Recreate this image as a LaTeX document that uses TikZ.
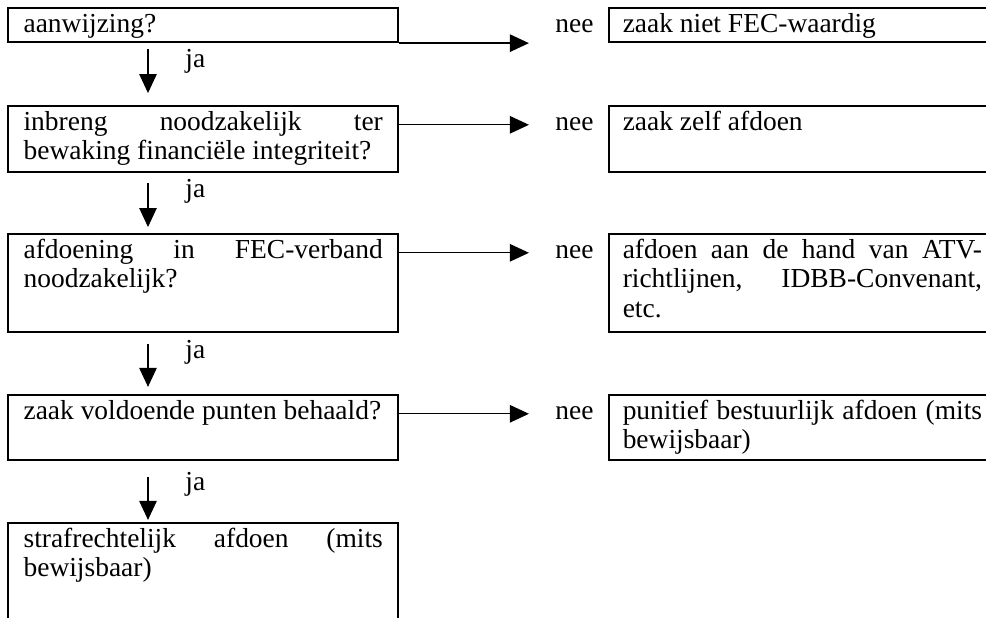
\documentclass[tikz,border=0pt]{standalone}
\usepackage{fontspec}
\setmainfont{Liberation Serif}
\usetikzlibrary{arrows.meta, positioning}

\tolerance=10000
\hbadness=10000
\hyphenpenalty=10000
\exhyphenpenalty=10000

\begin{document}
\begin{tikzpicture}[
    x=0.437pt, y=-0.437pt,
    every node/.style={font=\fontsize{12}{12.9}\selectfont},
    vraag/.style={draw, line width=0.9pt, anchor=north west, text width=157pt, align=justify, inner xsep=6.8pt, inner ysep=0pt, text height=10.5pt},
    uitkomst/.style={vraag, inner xsep=6pt},
    antwoord/.style={inner sep=0pt, anchor=base west},
    pijl/.style={line width=0.6pt, -{Triangle[length=8.3pt, width=7.6pt]}},
    nee pijl/.style={pijl, shorten >=11.4pt}
]
\path[use as bounding box, clip] (0,0) rectangle (986,618);

% x of the downward arrows
\coordinate (as) at (148,0);

% Vragen (left column)
\node[vraag, text depth=4.4pt] (b1) at (7,7) {aanwijzing?};
\node[vraag, text depth=18.4pt] (b2) at (7,105) {inbreng noodzakelijk ter\linebreak bewaking financiële integriteit?};
\node[vraag, text depth=32.3pt] (b3) at (7,233) {afdoening in FEC-verband\linebreak noodzakelijk?};
\node[vraag, text depth=17.9pt] (b4) at (7,394) {zaak voldoende punten behaald?};
\node[vraag, text depth=46pt] (b5) at (7,522) {strafrechtelijk afdoen (mits\linebreak bewijsbaar)};

% Uitkomsten (right column)
\node[uitkomst, text depth=4.4pt] (r1) at (608,7) {zaak niet FEC-waardig};
\node[uitkomst, text depth=18.4pt] (r2) at (608,105) {zaak zelf afdoen};
\node[uitkomst, text depth=32.3pt] (r3) at (608,233) {afdoen aan de hand van ATV-\linebreak richtlijnen, IDBB-Convenant,\linebreak etc.};
\node[uitkomst, text depth=17.9pt] (r4) at (608,394) {punitief bestuurlijk afdoen (mits\linebreak bewijsbaar)};

% nee
\node[antwoord, anchor=base east] (nee1) at ([xshift=-6.1pt]r1.base west) {nee};
\node[antwoord, anchor=base east] (nee2) at ([xshift=-6.1pt]r2.base west) {nee};
\node[antwoord, anchor=base east] (nee3) at ([xshift=-6.1pt]r3.base west) {nee};
\node[antwoord, anchor=base east] (nee4) at ([xshift=-6.1pt]r4.base west) {nee};

\draw[nee pijl] (b1.south east) -- (b1.south east -| nee1.west);
\draw[nee pijl] (b2.east |- nee2.mid) -- (nee2.mid west);
\draw[nee pijl] (b3.east |- nee3.mid) -- (nee3.mid west);
\draw[nee pijl] (b4.east |- nee4.mid) -- (nee4.mid west);

% ja
\node[antwoord] (ja1) at (185,68) {ja};
\node[antwoord] (ja2) at (185,198) {ja};
\node[antwoord] (ja3) at (185,359) {ja};
\node[antwoord] (ja4) at (185,491) {ja};

\draw[pijl, shorten <=2.6pt, shorten >=5.2pt] (b1.south -| as) -- (b2.north -| as);
\draw[pijl, shorten <=4.4pt, shorten >=2.6pt] (b2.south -| as) -- (b3.north -| as);
\draw[pijl, shorten <=4.8pt, shorten >=3.1pt] (b3.south -| as) -- (b4.north -| as);
\draw[pijl, shorten <=7pt, shorten >=0.9pt] (b4.south -| as) -- (b5.north -| as);
\end{tikzpicture}
\end{document}
